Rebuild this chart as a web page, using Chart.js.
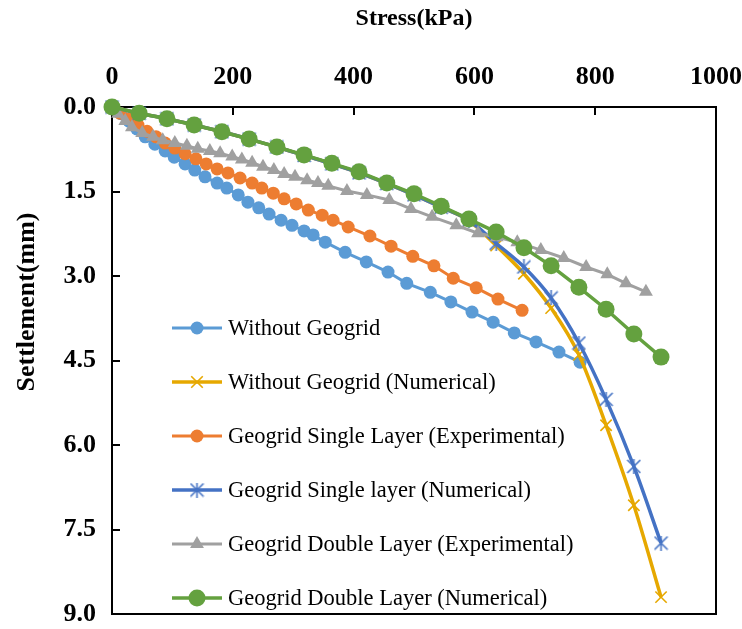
<!DOCTYPE html>
<html>
<head>
<meta charset="utf-8">
<title>Stress–Settlement</title>
<script src="https://cdn.jsdelivr.net/npm/chart.js@4/dist/chart.umd.min.js"></script>
<style>
  html, body { margin: 0; padding: 0; background: #ffffff; }
  #wrap { width: 742px; height: 629px; position: relative; }
</style>
</head>
<body>
<div id="wrap"><canvas id="chart" width="742" height="629"></canvas></div>
<script>
// ---- Data (stress in kPa, settlement in mm) ----
const seriesNames = [
  'Without Geogrid',
  'Without Geogrid (Numerical)',
  'Geogrid Single Layer (Experimental)',
  'Geogrid Single layer (Numerical)',
  'Geogrid Double Layer (Experimental)',
  'Geogrid Double Layer (Numerical)'
];

const stressWithout = [0, 15, 28, 41, 55, 71, 88, 103, 121, 137, 154, 174, 190, 209, 225, 243, 260, 280, 298, 318, 333, 353, 386, 421, 457, 488, 527, 561, 596, 631, 666, 702, 740, 775];
const settleWithout = [0, 0.12, 0.25, 0.39, 0.53, 0.66, 0.78, 0.89, 1.01, 1.12, 1.24, 1.35, 1.44, 1.56, 1.69, 1.79, 1.90, 2.01, 2.10, 2.20, 2.27, 2.40, 2.58, 2.75, 2.93, 3.13, 3.29, 3.46, 3.64, 3.82, 4.01, 4.17, 4.35, 4.53];

const stressSingleExp = [0, 13, 28, 43, 58, 73, 88, 104, 121, 139, 156, 174, 192, 212, 232, 248, 267, 285, 305, 325, 348, 366, 391, 427, 462, 498, 533, 565, 603, 639, 679];
const settleSingleExp = [0, 0.11, 0.21, 0.32, 0.43, 0.53, 0.64, 0.73, 0.83, 0.92, 1.01, 1.10, 1.17, 1.26, 1.35, 1.44, 1.53, 1.63, 1.72, 1.83, 1.92, 2.01, 2.13, 2.29, 2.47, 2.65, 2.82, 3.04, 3.21, 3.41, 3.61];

const stressDoubleExp = [0, 10, 22, 33, 50, 68, 84, 104, 124, 142, 162, 179, 199, 215, 232, 250, 268, 285, 303, 323, 341, 358, 389, 422, 459, 495, 530, 570, 606, 637, 671, 710, 748, 785, 820, 851, 884];
const settleDoubleExp = [0, 0.12, 0.25, 0.36, 0.46, 0.53, 0.59, 0.64, 0.69, 0.74, 0.78, 0.82, 0.88, 0.93, 0.99, 1.06, 1.12, 1.19, 1.24, 1.30, 1.35, 1.40, 1.49, 1.56, 1.65, 1.81, 1.95, 2.10, 2.24, 2.31, 2.40, 2.54, 2.68, 2.84, 2.97, 3.13, 3.28];

const stressNumerical = [0, 45, 91, 136, 182, 227, 273, 318, 364, 409, 455, 500, 545, 591, 636, 682, 727, 773, 818, 864, 909];
const settleWithoutNum = [0, 0.11, 0.21, 0.32, 0.44, 0.57, 0.71, 0.86, 1.01, 1.17, 1.36, 1.56, 1.78, 2.02, 2.46, 2.96, 3.57, 4.40, 5.65, 7.07, 8.70];
const settleSingleNum  = [0, 0.11, 0.21, 0.32, 0.44, 0.57, 0.71, 0.86, 1.01, 1.17, 1.36, 1.56, 1.78, 2.01, 2.42, 2.84, 3.39, 4.19, 5.19, 6.38, 7.74];
const settleDoubleNum  = [0, 0.11, 0.21, 0.32, 0.44, 0.57, 0.71, 0.85, 1.00, 1.15, 1.35, 1.54, 1.76, 1.99, 2.22, 2.50, 2.82, 3.20, 3.59, 4.03, 4.44];

const stressTicks = [0, 200, 400, 600, 800, 1000];
const settleTicks = [0, 1.5, 3.0, 4.5, 6.0, 7.5, 9.0];

// ---- Styling ----
const SERIF = "'Liberation Serif', 'Times New Roman', Times, serif";
const C_BLUE = '#5B9BD5';
const C_GOLD = '#E6A800';
const C_ORANGE = '#ED7D31';
const C_NAVY = '#4472C4';
const C_GREY = '#A0A0A0';
const C_GREEN = '#64A13F';

// Asterisk marker (x with a vertical stroke)
function makeAsterisk(color, size) {
  const c = document.createElement('canvas');
  c.width = size; c.height = size;
  const g = c.getContext('2d');
  g.strokeStyle = color; g.lineWidth = 1.6;
  const m = 1, s = size - 1;
  g.beginPath();
  g.moveTo(m, m); g.lineTo(s, s);
  g.moveTo(s, m); g.lineTo(m, s);
  g.moveTo(size / 2, 0); g.lineTo(size / 2, size);
  g.stroke();
  return c;
}
const asterisk = makeAsterisk(C_NAVY, 15);

function pairs(xs, ys) { return xs.map((x, i) => ({ x: x, y: ys[i] })); }

const datasets = [
  { label: seriesNames[0], data: pairs(stressWithout, settleWithout), borderColor: C_BLUE, backgroundColor: C_BLUE,
    pointStyle: 'circle', pointRadius: 6.5, borderWidth: 3, pointBorderWidth: 0, order: 6 },
  { label: seriesNames[1], data: pairs(stressNumerical, settleWithoutNum), borderColor: C_GOLD, backgroundColor: C_GOLD,
    pointStyle: 'crossRot', pointRadius: 8, borderWidth: 3.5, pointBorderWidth: 1.6, cubicInterpolationMode: 'monotone', order: 5 },
  { label: seriesNames[2], data: pairs(stressSingleExp, settleSingleExp), borderColor: C_ORANGE, backgroundColor: C_ORANGE,
    pointStyle: 'circle', pointRadius: 6.5, borderWidth: 3, pointBorderWidth: 0, order: 4 },
  { label: seriesNames[3], data: pairs(stressNumerical, settleSingleNum), borderColor: C_NAVY, backgroundColor: C_NAVY,
    pointStyle: asterisk, pointRadius: 7, borderWidth: 3.5, cubicInterpolationMode: 'monotone', order: 3 },
  { label: seriesNames[4], data: pairs(stressDoubleExp, settleDoubleExp), borderColor: C_GREY, backgroundColor: C_GREY,
    pointStyle: 'triangle', pointRadius: 8, borderWidth: 3, pointBorderWidth: 0, order: 2 },
  { label: seriesNames[5], data: pairs(stressNumerical, settleDoubleNum), borderColor: C_GREEN, backgroundColor: C_GREEN,
    pointStyle: 'circle', pointRadius: 8.5, borderWidth: 3.5, pointBorderWidth: 0, order: 1 }
];
datasets.forEach(d => { d.clip = false; d.pointHoverRadius = d.pointRadius; d.pointBorderColor = d.borderColor; });

// Frame around the plot, inward tick marks and the vertical axis title
const framePlugin = {
  id: 'frame',
  beforeDatasetsDraw(chart, args, opts) {
    const { ctx, chartArea: a, scales } = chart;
    ctx.save();
    ctx.strokeStyle = '#000'; ctx.lineWidth = 2;
    ctx.strokeRect(a.left, a.top, a.right - a.left, a.bottom - a.top);
    ctx.beginPath();
    stressTicks.forEach(v => {
      const px = Math.round(scales.x.getPixelForValue(v));
      ctx.moveTo(px, a.top); ctx.lineTo(px, a.top + 8);
    });
    settleTicks.forEach(v => {
      const py = Math.round(scales.y.getPixelForValue(v));
      ctx.moveTo(a.left, py); ctx.lineTo(a.left + 8, py);
    });
    ctx.stroke();
    // y-axis title
    ctx.translate(opts.yTitleX, opts.yTitleY);
    ctx.rotate(-Math.PI / 2);
    ctx.font = 'bold ' + opts.yTitleSize + 'px ' + SERIF;
    ctx.fillStyle = '#000';
    ctx.textAlign = 'center';
    ctx.textBaseline = 'middle';
    ctx.fillText(opts.yTitle, 0, 0);
    ctx.restore();
  }
};

// Legend drawn inside the plot area, one entry per row
const insideLegend = {
  id: 'insideLegend',
  afterDatasetsDraw(chart, args, opts) {
    const { ctx } = chart;
    ctx.save();
    ctx.font = opts.fontSize + 'px ' + SERIF;
    ctx.textBaseline = 'middle';
    ctx.fillStyle = '#000';
    chart.data.datasets.forEach((ds, i) => {
      const y = opts.top + i * opts.step;
      const x0 = opts.left, x1 = opts.left + opts.lineLen, xc = (x0 + x1) / 2;
      ctx.strokeStyle = ds.borderColor;
      ctx.lineWidth = ds.borderWidth;
      ctx.beginPath(); ctx.moveTo(x0, y); ctx.lineTo(x1, y); ctx.stroke();
      const r = ds.pointRadius;
      ctx.fillStyle = ds.backgroundColor;
      ctx.strokeStyle = ds.borderColor;
      if (ds.pointStyle === 'circle') {
        ctx.beginPath(); ctx.arc(xc, y, r, 0, Math.PI * 2); ctx.fill();
      } else if (ds.pointStyle === 'triangle') {
        ctx.beginPath();
        for (let k = 0; k < 3; k++) {
          const ang = k * 2 * Math.PI / 3;
          const px = xc + Math.sin(ang) * r, py = y - Math.cos(ang) * r;
          if (k === 0) ctx.moveTo(px, py); else ctx.lineTo(px, py);
        }
        ctx.closePath(); ctx.fill();
      } else if (ds.pointStyle === 'crossRot') {
        const s = r * 0.72;
        ctx.lineWidth = ds.pointBorderWidth;
        ctx.beginPath();
        ctx.moveTo(xc - s, y - s); ctx.lineTo(xc + s, y + s);
        ctx.moveTo(xc + s, y - s); ctx.lineTo(xc - s, y + s);
        ctx.stroke();
      } else if (ds.pointStyle instanceof HTMLCanvasElement) {
        const c = ds.pointStyle;
        ctx.drawImage(c, xc - c.width / 2, y - c.height / 2);
      }
      ctx.fillStyle = '#000';
      ctx.fillText(ds.label, opts.textX, y + 1);
    });
    ctx.restore();
  }
};

new Chart(document.getElementById('chart'), {
  type: 'line',
  data: { datasets: datasets },
  plugins: [framePlugin, insideLegend],
  options: {
    responsive: false,
    animation: false,
    events: [],
    layout: { padding: { left: 0, top: 0, right: 26, bottom: 15 } },
    plugins: {
      legend: { display: false },
      tooltip: { enabled: false },
      frame: { yTitle: 'Settlement(mm)', yTitleX: 27, yTitleY: 302, yTitleSize: 26 },
      insideLegend: { left: 172, lineLen: 50, textX: 228, top: 328, step: 54, fontSize: 22.5 }
    },
    scales: {
      x: {
        type: 'linear', position: 'top', min: 0, max: 1000,
        afterFit(s) { s.height = 107; s.paddingLeft = 0; s.paddingRight = 0; },
        afterBuildTicks(s) { s.ticks = stressTicks.map(v => ({ value: v })); },
        grid: { display: false, drawTicks: false },
        border: { display: false },
        ticks: { padding: 14, color: '#000', font: { family: SERIF, size: 26, weight: 'bold' },
                 callback: v => String(v) },
        title: { display: true, text: 'Stress(kPa)', color: '#000', padding: { top: 4, bottom: 0 },
                 font: { family: SERIF, size: 24, weight: 'bold' } }
      },
      y: {
        type: 'linear', reverse: true, min: 0, max: 9,
        afterFit(s) { s.width = 112; s.paddingTop = 0; s.paddingBottom = 0; },
        afterBuildTicks(s) { s.ticks = settleTicks.map(v => ({ value: v })); },
        grid: { display: false, drawTicks: false },
        border: { display: false },
        ticks: { padding: 16, color: '#000', font: { family: SERIF, size: 26, weight: 'bold' },
                 callback: v => Number(v).toFixed(1) }
      }
    }
  }
});
</script>
</body>
</html>
